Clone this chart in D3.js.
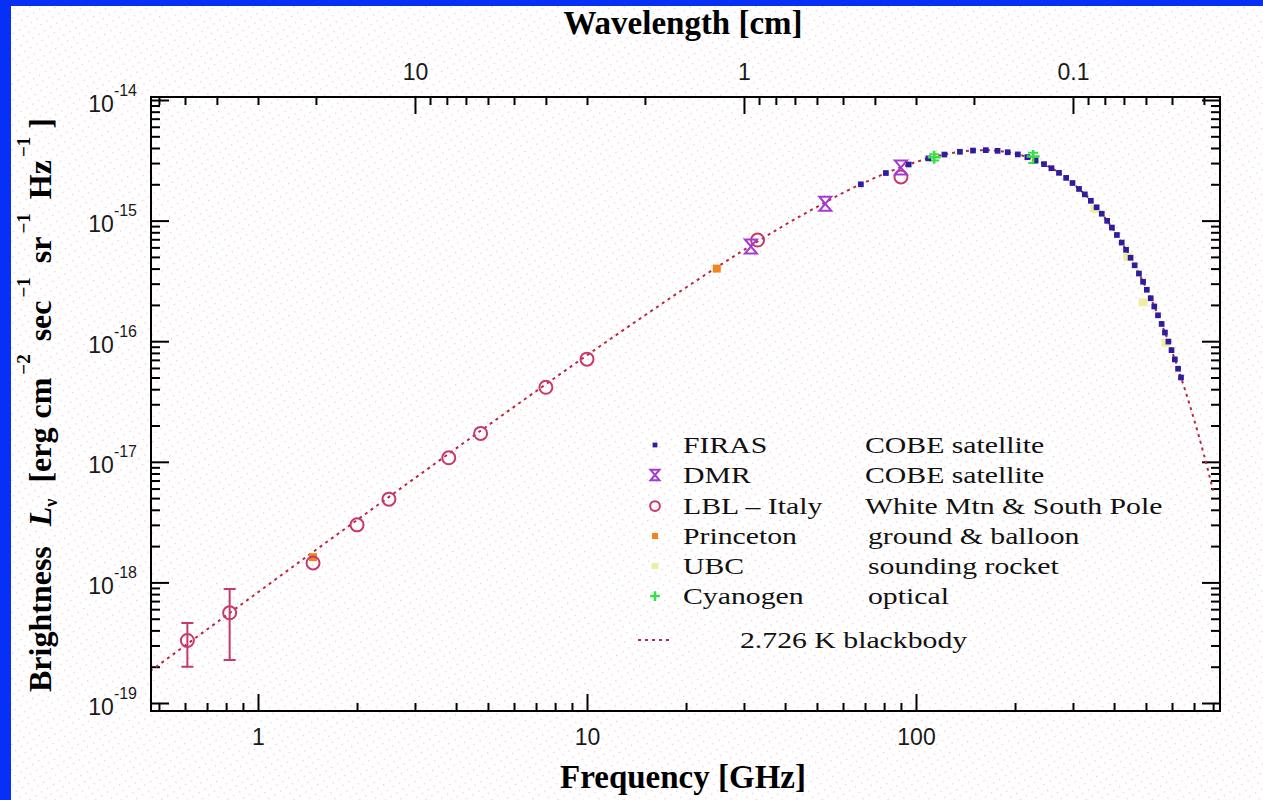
<!DOCTYPE html>
<html>
<head>
<meta charset="utf-8">
<script src="https://cdn.jsdelivr.net/npm/d3@7/dist/d3.min.js"></script>
<style>
  html, body { margin: 0; padding: 0; background: #fff; }
  svg { display: block; }
</style>
</head>
<body>
<div id="chart"></div>
<script>
// frequency in GHz, brightness in erg cm^-2 sec^-1 sr^-1 Hz^-1
var curveFreq = [0.47, 0.5, 0.7, 1, 1.5, 2, 3, 5, 7, 10, 15, 20, 30, 40, 50, 60, 70, 85, 100, 115, 130, 160, 180, 200, 225, 250, 275, 300, 350, 400, 450, 500, 550, 600, 650, 700, 750, 800];
var curveVal = [1.84e-19, 2.08e-19, 4.07e-19, 8.29e-19, 1.86e-18, 3.29e-18, 7.33e-18, 2.00e-17, 3.85e-17, 7.65e-17, 1.64e-16, 2.79e-16, 5.71e-16, 9.22e-16, 1.30e-15, 1.70e-15, 2.08e-15, 2.61e-15, 3.06e-15, 3.41e-15, 3.65e-15, 3.84e-15, 3.77e-15, 3.59e-15, 3.26e-15, 2.86e-15, 2.44e-15, 2.03e-15, 1.34e-15, 8.25e-16, 4.87e-16, 2.77e-16, 1.53e-16, 8.23e-17, 4.34e-17, 2.25e-17, 1.15e-17, 5.77e-18];

var firasFreq = [68, 81, 95, 109, 122, 136, 149, 163, 177, 190, 204, 218, 231, 245, 258, 272, 286, 299, 313, 326, 340, 354, 367, 381, 394, 408, 422, 435, 449, 462, 476, 490, 503, 517, 530, 544, 558, 571, 585, 598, 612, 626, 639];
var firasVal = [2.00e-15, 2.48e-15, 2.92e-15, 3.28e-15, 3.53e-15, 3.72e-15, 3.81e-15, 3.84e-15, 3.79e-15, 3.69e-15, 3.54e-15, 3.36e-15, 3.16e-15, 2.94e-15, 2.72e-15, 2.49e-15, 2.26e-15, 2.05e-15, 1.83e-15, 1.65e-15, 1.46e-15, 1.29e-15, 1.14e-15, 9.96e-16, 8.76e-16, 7.60e-16, 6.57e-16, 5.73e-16, 4.92e-16, 4.26e-16, 3.64e-16, 3.11e-16, 2.67e-16, 2.27e-16, 1.94e-16, 1.64e-16, 1.39e-16, 1.18e-16, 9.93e-17, 8.43e-17, 7.07e-17, 5.91e-17, 5.00e-17];

var dmrFreq = [31.5, 53, 90];
var dmrVal = [6.1e-16, 1.38e-15, 2.75e-15];

var lblFreq = [0.61, 0.82, 1.47, 2.0, 2.5, 3.8, 4.75, 7.5, 10, 33, 90];
var lblVal = [3.3e-19, 5.6e-19, 1.45e-18, 3.0e-18, 4.9e-18, 1.08e-17, 1.72e-17, 4.15e-17, 7.1e-17, 6.9e-16, 2.3e-15];
var lblErrFreq = [0.61, 0.82];
var lblErrLo = [2.0e-19, 2.27e-19];
var lblErrHi = [4.6e-19, 8.8e-19];

var princetonFreq = [1.47, 24.8];
var princetonVal = [1.62e-18, 4.0e-16];

var ubcFreq = [350, 440, 490, 575];
var ubcVal = [1.25e-15, 5.0e-16, 2.1e-16, 9.7e-17];

var cyanFreq = [113.6, 227];
var cyanVal = [3.35e-15, 3.4e-15];
var cyanLo = [3.15e-15, 3.0e-15];
var cyanHi = [3.55e-15, 3.65e-15];

var freqMajor = [1, 10, 100];
var freqMinor = [0.5, 0.6, 0.7, 0.8, 0.9, 2, 3, 4, 5, 6, 7, 8, 9, 20, 30, 40, 50, 60, 70, 80, 90, 200, 300, 400, 500, 600, 700, 800];
var waveMajor = [10, 1, 0.1];
var waveMajorLabels = ['10', '1', '0.1'];
var waveMinor = [60, 50, 40, 30, 20, 9, 8, 7, 6, 5, 4, 3, 2, 0.9, 0.8, 0.7, 0.6, 0.5, 0.4, 0.3, 0.2, 0.09, 0.08, 0.07, 0.06, 0.05, 0.04];
var yMajor = [1e-19, 1e-18, 1e-17, 1e-16, 1e-15, 1e-14];
var yMinor = [];
[-19, -18, -17, -16, -15].forEach(function (e) {
	[2, 3, 4, 5, 6, 7, 8, 9].forEach(function (m) { yMinor.push(m * Math.pow(10, e)); });
});

var legendKeys = ['firas', 'dmr', 'lbl', 'princeton', 'ubc', 'cyan'];
var legendNames = ['FIRAS', 'DMR', 'LBL \u2013 Italy', 'Princeton', 'UBC', 'Cyanogen'];
var legendDescs = ['COBE satellite', 'COBE satellite', 'White Mtn & South Pole', 'ground & balloon', 'sounding rocket', 'optical'];
var legendLineLabel = '2.726 K blackbody';

var COLORS = {
	curve: '#b8283e',
	firas: '#2c1e9c',
	dmr: '#a33bd2',
	lbl: '#c8386c',
	princeton: '#f28420',
	ubc: '#f1eca4',
	cyan: '#3ade46'
};

var W = 1263, H = 800;
var plot = { left: 151, right: 1220, top: 97, bottom: 711 };
var SERIF = '"Liberation Serif", "Times New Roman", serif';
var SANS = '"Liberation Sans", Arial, sans-serif';

var svg = d3.select('#chart').append('svg')
	.attr('width', W)
	.attr('height', H);

var defs = svg.append('defs');

// faint dotted paper texture
var pat = defs.append('pattern')
	.attr('id', 'dots')
	.attr('patternUnits', 'userSpaceOnUse')
	.attr('width', 7)
	.attr('height', 7)
	.attr('patternTransform', 'rotate(-32)');
pat.append('rect')
	.attr('width', 1.3)
	.attr('height', 1.3)
	.attr('fill', '#f3c6d6');

defs.append('clipPath').attr('id', 'plotclip')
	.append('rect')
	.attr('x', plot.left)
	.attr('y', plot.top)
	.attr('width', plot.right - plot.left)
	.attr('height', plot.bottom - plot.top);

svg.append('rect').attr('width', W).attr('height', H).attr('fill', '#fff');
svg.append('rect').attr('x', 11).attr('y', 6).attr('width', W - 11).attr('height', H - 6).attr('fill', 'url(#dots)');
svg.append('rect').attr('x', 0).attr('y', 0).attr('width', W).attr('height', 6).attr('fill', '#0630f6');
svg.append('rect').attr('x', 0).attr('y', 0).attr('width', 11).attr('height', H).attr('fill', '#0630f6');

var x = d3.scaleLog().domain([0.4729, 839.5]).range([plot.left, plot.right]);
var y = d3.scaleLog().domain([8.585e-20, 1.059e-14]).range([plot.bottom, plot.top]);
var xl = d3.scaleLog().domain([30 / x.domain()[0], 30 / x.domain()[1]]).range(x.range());

// ---------- axes ----------
function styleAxis(g) {
	g.select('.domain').remove();
	g.selectAll('.tick line').attr('stroke', '#000').attr('stroke-width', 2);
	g.attr('font-family', SANS).attr('font-size', 23);
	g.selectAll('.tick text').attr('fill', '#1a1a1a');
}

var gBottom = svg.append('g').attr('transform', 'translate(0,' + plot.bottom + ')');
gBottom.call(d3.axisBottom(x).tickValues(freqMinor).tickSize(-8).tickSizeOuter(0).tickFormat(''));
styleAxis(gBottom);
var gBottomMaj = svg.append('g').attr('transform', 'translate(0,' + plot.bottom + ')');
gBottomMaj.call(d3.axisBottom(x).tickValues(freqMajor).tickSize(-17).tickSizeOuter(0).tickFormat(d3.format('d')));
styleAxis(gBottomMaj);
gBottomMaj.selectAll('.tick text').attr('y', 34).attr('dy', null);

var gTop = svg.append('g').attr('transform', 'translate(0,' + plot.top + ')');
gTop.call(d3.axisTop(xl).tickValues(waveMinor).tickSize(-8).tickSizeOuter(0).tickFormat(''));
styleAxis(gTop);
var gTopMaj = svg.append('g').attr('transform', 'translate(0,' + plot.top + ')');
gTopMaj.call(d3.axisTop(xl).tickValues(waveMajor).tickSize(-17).tickSizeOuter(0)
	.tickFormat(function (d, i) { return waveMajorLabels[i]; }));
styleAxis(gTopMaj);
gTopMaj.selectAll('.tick text').attr('y', -17).attr('dy', null);

var gLeft = svg.append('g').attr('transform', 'translate(' + plot.left + ',0)');
gLeft.call(d3.axisLeft(y).tickValues(yMinor).tickSize(-9).tickSizeOuter(0).tickFormat(''));
styleAxis(gLeft);
var gLeftMaj = svg.append('g').attr('transform', 'translate(' + plot.left + ',0)');
gLeftMaj.call(d3.axisLeft(y).tickValues(yMajor).tickSize(-18).tickSizeOuter(0));
styleAxis(gLeftMaj);
gLeftMaj.selectAll('.tick text').each(function (d) {
	var t = d3.select(this);
	t.text(null).attr('x', -14).attr('y', 11).attr('dy', null).attr('text-anchor', 'end');
	t.append('tspan').text('10');
	t.append('tspan').attr('dy', -16).attr('font-size', 16).text(String(Math.round(Math.log10(d))));
});

var gRight = svg.append('g').attr('transform', 'translate(' + plot.right + ',0)');
gRight.call(d3.axisRight(y).tickValues(yMinor).tickSize(-9).tickSizeOuter(0).tickFormat(''));
styleAxis(gRight);
var gRightMaj = svg.append('g').attr('transform', 'translate(' + plot.right + ',0)');
gRightMaj.call(d3.axisRight(y).tickValues(yMajor).tickSize(-18).tickSizeOuter(0).tickFormat(''));
styleAxis(gRightMaj);

// ---------- titles ----------
svg.append('text')
	.attr('x', 683).attr('y', 34)
	.attr('text-anchor', 'middle')
	.attr('font-family', SERIF).attr('font-weight', 'bold').attr('font-size', 33)
	.text('Wavelength [cm]');

svg.append('text')
	.attr('x', 683).attr('y', 788)
	.attr('text-anchor', 'middle')
	.attr('font-family', SERIF).attr('font-weight', 'bold').attr('font-size', 33)
	.text('Frequency [GHz]');

var yTitle = svg.append('text')
	.attr('transform', 'translate(51,692) rotate(-90)')
	.attr('font-family', SERIF).attr('font-weight', 'bold').attr('font-size', 32);
var yParts = [
	{ t: 'Brightness' },
	{ t: 'L', dx: 20, style: 'italic' },
	{ t: '\u03bd', size: 18, dy: 6 },
	{ t: '[erg', dx: 16, dy: -6 },
	{ t: 'cm', dx: 9 },
	{ t: '\u22122', size: 19, dx: 3, dy: -21 },
	{ t: 'sec', dx: 13, dy: 21 },
	{ t: '\u22121', size: 19, dx: 3, dy: -21 },
	{ t: 'sr', dx: 14, dy: 21 },
	{ t: '\u22121', size: 19, dx: 3, dy: -21 },
	{ t: 'Hz', dx: 14, dy: 21 },
	{ t: '\u22121', size: 19, dx: 3, dy: -21 },
	{ t: ']', dx: 8, dy: 21 }
];
yParts.forEach(function (p) {
	var ts = yTitle.append('tspan').text(p.t);
	if (p.dx) ts.attr('dx', p.dx);
	if (p.dy) ts.attr('dy', p.dy);
	if (p.size) ts.attr('font-size', p.size);
	if (p.style) ts.attr('font-style', p.style);
});

// ---------- markers ----------
function drawMarker(g, type, cx, cy, s) {
	s = s || 1;
	if (type === 'firas') {
		g.append('rect').attr('x', cx - 3 * s).attr('y', cy - 3 * s)
			.attr('width', 6 * s).attr('height', 6 * s).attr('fill', COLORS.firas);
	} else if (type === 'dmr') {
		var a = 6 * s, b = 7 * s;
		g.append('path')
			.attr('d', 'M' + (cx - a) + ',' + (cy - b) + 'H' + (cx + a) + 'L' + (cx - a) + ',' + (cy + b) +
				'H' + (cx + a) + 'Z')
			.attr('fill', 'none').attr('stroke', COLORS.dmr).attr('stroke-width', 2);
	} else if (type === 'lbl') {
		g.append('circle').attr('cx', cx).attr('cy', cy).attr('r', 6.5 * s)
			.attr('fill', 'none').attr('stroke', COLORS.lbl).attr('stroke-width', 2);
	} else if (type === 'princeton') {
		g.append('rect').attr('x', cx - 4 * s).attr('y', cy - 4 * s)
			.attr('width', 8 * s).attr('height', 8 * s).attr('fill', COLORS.princeton);
	} else if (type === 'ubc') {
		g.append('rect').attr('x', cx - 4.5 * s).attr('y', cy - 4 * s)
			.attr('width', 9 * s).attr('height', 8 * s).attr('fill', COLORS.ubc);
	} else if (type === 'cyan') {
		var c = 6.5 * s;
		g.append('path')
			.attr('d', 'M' + (cx - c) + ',' + cy + 'H' + (cx + c) + 'M' + cx + ',' + (cy - c) + 'V' + (cy + c))
			.attr('stroke', COLORS.cyan).attr('stroke-width', 2.5);
	}
}

function zip(a, b) { return a.map(function (v, i) { return [v, b[i]]; }); }

var gPlot = svg.append('g').attr('clip-path', 'url(#plotclip)');

// blackbody curve
var line = d3.line()
	.x(function (d) { return x(d[0]); })
	.y(function (d) { return y(d[1]); })
	.curve(d3.curveMonotoneX);

gPlot.append('path')
	.datum(zip(curveFreq, curveVal))
	.attr('d', line)
	.attr('fill', 'none')
	.attr('stroke', COLORS.curve)
	.attr('stroke-width', 2)
	.attr('stroke-dasharray', '3,4');

// error bars
function errorBars(freqs, lo, hi, color, cap) {
	freqs.forEach(function (f, i) {
		var cx = x(f), y0 = y(lo[i]), y1 = y(hi[i]);
		gPlot.append('path')
			.attr('d', 'M' + cx + ',' + y0 + 'V' + y1 + 'M' + (cx - cap) + ',' + y0 + 'H' + (cx + cap) +
				'M' + (cx - cap) + ',' + y1 + 'H' + (cx + cap))
			.attr('fill', 'none').attr('stroke', color).attr('stroke-width', 2);
	});
}

errorBars(lblErrFreq, lblErrLo, lblErrHi, COLORS.lbl, 6);
errorBars(cyanFreq, cyanLo, cyanHi, COLORS.cyan, 5);

zip(ubcFreq, ubcVal).forEach(function (d) { drawMarker(gPlot, 'ubc', x(d[0]), y(d[1])); });
zip(princetonFreq, princetonVal).forEach(function (d) { drawMarker(gPlot, 'princeton', x(d[0]), y(d[1])); });
zip(lblFreq, lblVal).forEach(function (d) { drawMarker(gPlot, 'lbl', x(d[0]), y(d[1])); });
zip(dmrFreq, dmrVal).forEach(function (d) { drawMarker(gPlot, 'dmr', x(d[0]), y(d[1])); });
zip(firasFreq, firasVal).forEach(function (d) { drawMarker(gPlot, 'firas', x(d[0]), y(d[1]), 0.95); });
zip(cyanFreq, cyanVal).forEach(function (d) { drawMarker(gPlot, 'cyan', x(d[0]), y(d[1])); });

// frame
svg.append('rect')
	.attr('x', plot.left).attr('y', plot.top)
	.attr('width', plot.right - plot.left).attr('height', plot.bottom - plot.top)
	.attr('fill', 'none').attr('stroke', '#000').attr('stroke-width', 2);

// ---------- legend ----------
var gLegend = svg.append('g');
var rowY = [445, 475, 506, 536, 566, 596];
var descX = [865, 865, 865, 868, 868, 868];

function wideText(g, tx, ty, str) {
	g.append('text')
		.attr('transform', 'translate(' + tx + ',' + ty + ') scale(1.24,1)')
		.attr('font-family', SERIF).attr('font-size', 24).attr('fill', '#111')
		.text(str);
}

legendKeys.forEach(function (k, i) {
	drawMarker(gLegend, k, 655, rowY[i], k === 'firas' ? 0.8 : 0.75);
	wideText(gLegend, 683, rowY[i] + 8, legendNames[i]);
	wideText(gLegend, descX[i], rowY[i] + 8, legendDescs[i]);
});

gLegend.append('line')
	.attr('x1', 638).attr('x2', 673).attr('y1', 640).attr('y2', 640)
	.attr('stroke', COLORS.curve).attr('stroke-width', 2).attr('stroke-dasharray', '3,4');
wideText(gLegend, 740, 648, legendLineLabel);
</script>
</body>
</html>
